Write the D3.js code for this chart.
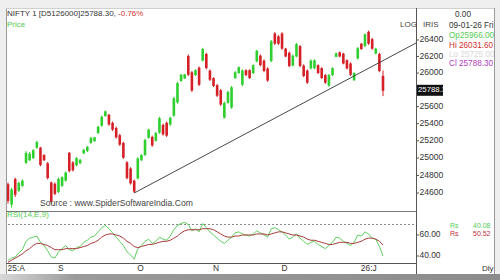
<!DOCTYPE html>
<html><head><meta charset="utf-8">
<script src="https://cdn.jsdelivr.net/npm/d3@7"></script>
<style>body{margin:0;background:#fff;}svg{display:block;font-family:"Liberation Sans",Arial,sans-serif;}</style>
</head><body><svg id="c" width="500" height="280"></svg>
<script>
const opens=[24700,24470,24760,24625,24680,24945,24975,25000,25120,25120,25035,24940,24720,24705,24610,24680,24740,25060,24950,24915,24940,25055,25080,25175,25195,25290,25375,25490,25505,25410,25350,25265,25175,24950,24880,24740,24765,24975,25035,25235,25245,25200,25295,25385,25410,25390,25495,25650,25905,25935,26205,26010,25975,26065,26150,26230,26030,25940,25855,25795,25470,25645,25590,25940,26000,25860,26035,26035,26000,26140,26210,26150,26055,26145,26480,26445,26480,26295,26245,26090,26200,26325,26090,26030,26055,26060,26095,26060,25975,25850,25975,26195,26250,26235,26155,26115,25915,26175,26355,26325,26500,26410,26235,26230,25966];
const highs=[24720,24660,24775,24730,24755,25080,25070,25105,25200,25130,25045,24955,24730,24720,24775,24790,24845,25070,24965,25010,24990,25105,25140,25245,25245,25375,25495,25555,25515,25425,25365,25280,25190,24965,24895,24755,25010,25045,25225,25340,25260,25305,25480,25400,25425,25480,25715,25895,25990,25990,26225,26025,26045,26080,26305,26245,26045,25950,25870,25810,25660,25790,25845,26025,26080,26045,26045,26045,26105,26280,26225,26165,26070,26400,26495,26460,26495,26305,26260,26225,26365,26340,26105,26045,26165,26165,26105,26070,25990,25990,26070,26245,26260,26245,26165,26130,26010,26315,26365,26480,26515,26425,26305,26245,26031.6];
const lows=[24480,24435,24555,24610,24670,24930,24965,24990,25105,24905,24965,24755,24480,24575,24600,24670,24730,24835,24845,24905,24930,25045,25070,25165,25190,25280,25365,25480,25375,25315,25225,25140,24990,24755,24695,24600,24755,24965,25025,25225,25130,25190,25280,25260,25245,25375,25480,25635,25895,25930,25965,25775,25965,25845,26140,26045,25905,25835,25715,25610,25460,25635,25575,25930,25990,25845,25965,25930,25990,26130,26080,26010,25895,26130,26340,26340,26280,26190,26070,26080,26190,26070,25950,25870,26045,26045,25990,25930,25870,25835,25965,26190,26190,26105,26045,25965,25905,26165,26280,26315,26340,26280,26225,26010,25725];
const closes=[24510,24640,24580,24715,24740,25060,25050,25090,25185,24920,24975,24770,24500,24590,24760,24780,24835,24850,24860,25000,24980,25095,25130,25235,25240,25365,25480,25545,25390,25330,25240,25155,25005,24770,24710,24615,24995,25035,25210,25330,25145,25290,25465,25275,25260,25470,25700,25880,25980,25985,25980,25790,26035,25860,26290,26060,25920,25845,25730,25625,25645,25775,25830,26010,26070,26030,25975,25940,26095,26270,26095,26025,25910,26385,26355,26355,26295,26200,26085,26210,26350,26085,25965,25885,26150,26155,26000,25940,25885,25975,26060,26240,26200,26115,26055,25980,26000,26300,26290,26470,26355,26295,26295,26025,25788.3];
const rsi=[36,38,39,43,46,54,57,58,59,53,50,45,39,38,44,47,50,46,45,48,49,53,55,58,59,63,67,69,66,62,58,54,50,44,41,37,47,50,54,56,52,54,58,56,55,59,65,69,71,72,70,64,66,63,71,67,63,60,57,54,52,55,58,62,63,61,60,59,61,64,62,60,58,66,67,65,63,60,56,58,61,57,54,51,53,54,51,49,47,50,53,58,57,54,52,50,53,60,59,63,61,57,56,49,40.08];
const rsiSignal=[34,36,38,40,42,45,47,50,52,52,51,50,48,46,46,46,47,47,47,47,48,49,50,52,53,55,58,60,61,61,60,59,57,54,52,49,48,49,50,51,51,52,53,54,54,55,57,59,62,64,65,65,65,65,66,66,66,65,63,61,59,58,58,59,59,60,60,60,60,61,61,61,60,61,62,63,63,62,61,60,60,59,58,56,55,55,54,53,52,51,51,52,53,53,53,52,52,53,54,56,57,57,56,54,50.52];
const priceTicks=[26400,26200,26000,25600,25400,25200,25000,24800,24600];
const rsiTicks=[60,40];
const rsiLevel=70;
const monthTickIdx=[0,14,36,57,76,98];
const monthTickLabels=["25:A","S","O","N","D","26:J"];
const trendIdx=[35,104];
const trendPrice=[24600,26150];
const lastClose=25788.3;
const infoLabels=["09-01-26 Fri","Op25966.00","Hi 26031.60","Lo 25725.00","Cl 25788.30"];

const svg=d3.select("#c");
const green="#2ecf2e", red="#d42026";
const defs=svg.append("defs");
const g1=defs.append("linearGradient").attr("id","bot");
g1.append("stop").attr("offset","0").attr("stop-color","#d8d8d8");
g1.append("stop").attr("offset","0.15").attr("stop-color","#9a9a9a");
g1.append("stop").attr("offset","1").attr("stop-color","#8c8c8c");
defs.append("clipPath").attr("id","rp").append("rect").attr("x",417).attr("y",0).attr("width",77).attr("height",274);
defs.append("clipPath").attr("id","bx").append("rect").attr("x",417).attr("y",0).attr("width",26).attr("height",274);
defs.append("clipPath").attr("id","mp").append("rect").attr("x",7).attr("y",9).attr("width",409).attr("height",202);
svg.append("rect").attr("width",500).attr("height",280).attr("fill","#efefef");
svg.append("rect").attr("x",6).attr("y",8).attr("width",488).attr("height",266).attr("fill","#fff");
svg.append("rect").attr("x",0).attr("y",274).attr("width",500).attr("height",6).attr("fill","url(#bot)");

const idx=d3.range(closes.length);
const x=d3.scaleLinear().domain([0,closes.length-1]).range([8,383]);
const y=d3.scaleLog().domain([24600,26400]).range([193,40]);
const yr=d3.scaleLinear().domain([40,60]).range([256,235]);

const ln=(x1,y1,x2,y2,c,w)=>svg.append("line").attr("x1",x1).attr("y1",y1).attr("x2",x2).attr("y2",y2).attr("stroke",c).attr("stroke-width",w||1);
ln(6.5,8,6.5,274,"#9a9a9a");
ln(6,8.5,494,8.5,"#d0d0d0");
ln(494.5,8,494.5,274,"#9a9a9a");
ln(6,211.5,416,211.5,"#7a7a7a");
ln(6,263.5,416,263.5,"#555");
ln(416.5,8,416.5,274,"#555");

const cg=svg.append("g").attr("clip-path","url(#mp)");
const cs=cg.selectAll("g").data(idx).join("g");
cs.append("line").attr("x1",i=>x(i)).attr("x2",i=>x(i)).attr("y1",i=>y(highs[i])).attr("y2",i=>y(lows[i]))
  .attr("stroke",i=>closes[i]>=opens[i]?green:red).attr("stroke-width",1);
cs.append("rect").attr("x",i=>x(i)-1.3).attr("width",2.6)
  .attr("y",i=>y(Math.max(opens[i],closes[i])))
  .attr("height",i=>Math.max(1,y(Math.min(opens[i],closes[i]))-y(Math.max(opens[i],closes[i]))))
  .attr("fill",i=>closes[i]>=opens[i]?green:red);

const tx1=x(trendIdx[0]),ty1=y(trendPrice[0]),tx2=x(trendIdx[1]),ty2=y(trendPrice[1]);
const sl=(ty2-ty1)/(tx2-tx1);
cg.append("line").attr("x1",tx1).attr("y1",ty1).attr("x2",416).attr("y2",ty1+sl*(416-tx1)).attr("stroke","#333").attr("stroke-width",0.9);

const t=(xx,yy,s,c,fs,anchor)=>svg.append("text").attr("x",xx).attr("y",yy).attr("fill",c).attr("font-size",fs).attr("text-anchor",anchor||"start").attr("dominant-baseline","middle").text(s);
const title=svg.append("text").attr("x",7).attr("y",14).attr("font-size",8).attr("dominant-baseline","middle").attr("fill","#333");
title.append("tspan").text("NIFTY 1 [D5126000]25788.30, ");
title.append("tspan").attr("fill","#d03030").text("-0.76%");
t(7,25,"Price","#55cc55",8);
t(40,204,"Source : www.SpiderSoftwareIndia.Com","#444",8.6);
t(7,215,"RSI(14,E,9)","#55cc55",8);
t(400,25,"LOG","#444",8);

priceTicks.forEach(p=>{ln(416,y(p),419,y(p),"#555");t(419.5,y(p),d3.format("d")(p),"#333",8.6);});
svg.append("rect").attr("x",417).attr("y",y(lastClose)-6).attr("width",26).attr("height",11).attr("fill","#111");
t(418,y(lastClose)-0.5,"25788.3","#fff",7.8).attr("clip-path","url(#bx)");

const rp=svg.append("g").attr("clip-path","url(#rp)");
const rt=(xx,yy,s,c,fs)=>rp.append("text").attr("x",xx).attr("y",yy).attr("fill",c).attr("font-size",fs).attr("dominant-baseline","middle").text(s);
rt(455,15,"0.00","#333",8.2);
rt(423,25,"IRIS","#444",8);
const infoColors=["#333","#55cc55","#d03030","#d8d8d8","#b040c0"];
const infoY=[26,36,46,55,64];
infoLabels.forEach((s,k)=>rt(449,infoY[k],s,infoColors[k],8.2));
rt(450,226,"Rs","#55cc55",7);rt(473,226,"40.08","#55cc55",7);
rt(450,234,"Rs","#c03040",7);rt(473,234,"50.52","#c03040",7);
rt(482,269,"Dly","#333",8);

ln(8,yr(rsiLevel),416,yr(rsiLevel),"#888").attr("stroke-dasharray","2,2");
rsiTicks.forEach(v=>{ln(416,yr(v),419,yr(v),"#555");t(419.5,yr(v),d3.format(".2f")(v),"#333",8.4);});
const line=arr=>d3.line().x(i=>x(i)).y(i=>yr(arr[i]))(idx);
svg.append("path").attr("d",line(rsi)).attr("fill","none").attr("stroke","#5fd05f").attr("stroke-width",1);
svg.append("path").attr("d",line(rsiSignal)).attr("fill","none").attr("stroke","#a83a3a").attr("stroke-width",1);

monthTickIdx.forEach((i,k)=>t(x(i)-0.5,269,monthTickLabels[k],"#333",8.4));
</script></body></html>
